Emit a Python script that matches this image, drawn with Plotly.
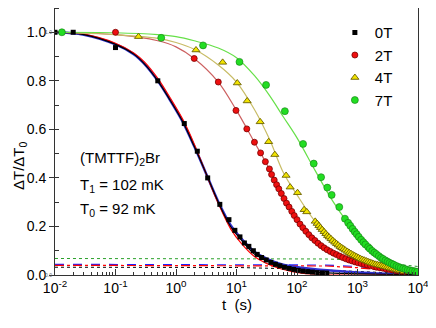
import plotly.graph_objects as go

# 0T (quadrados pretos)
t_0T = [0.01, 0.02, 0.1, 0.5, 1.37, 2.25, 3.34, 5.3, 7.5, 9.4, 11.4, 13.5, 16, 19, 22, 26, 31, 37, 44, 52,
        62, 74, 88, 105, 125, 150, 180, 215, 260, 310]
v_0T = [1.0, 1.0, 0.937, 0.80, 0.624, 0.51, 0.40, 0.291, 0.228, 0.184, 0.157, 0.132, 0.118, 0.10, 0.085, 0.072,
        0.062, 0.052, 0.044, 0.038, 0.032, 0.027, 0.023, 0.019, 0.016, 0.014, 0.012, 0.010, 0.009, 0.008]

# 2T (circulos vermelhos)
t_2T = [0.1, 2.0, 5.0, 9.8, 14.8, 19.8, 25, 30, 35, 38, 42, 46, 50, 55, 61, 67, 74, 82, 90, 100, 112, 125, 140,
        157, 176, 198, 222, 250, 280, 315, 355, 400, 450, 505, 570, 640, 720, 810, 910, 1020, 1150, 1300, 1460,
        1640, 1850, 2080, 2340, 2630, 2960, 3330, 3750, 4220, 4750, 5340, 6000]
v_2T = [1.0, 0.892, 0.795, 0.678, 0.602, 0.547, 0.503, 0.467, 0.437, 0.414, 0.391, 0.372, 0.355, 0.336, 0.315,
        0.296, 0.28, 0.262, 0.245, 0.228, 0.21, 0.195, 0.18, 0.166, 0.153, 0.142, 0.131, 0.121, 0.112, 0.104,
        0.097, 0.090, 0.084, 0.078, 0.072, 0.067, 0.062, 0.058, 0.054, 0.050, 0.047, 0.044, 0.041, 0.038, 0.035,
        0.032, 0.030, 0.028, 0.025, 0.023, 0.021, 0.019, 0.017, 0.015, 0.014]

# 4T (triangulos amarelos)
t_4T = [0.24, 2.14, 5.9, 10.3, 15, 24.6, 34, 43, 66, 77, 102, 131, 145, 200, 215, 230, 245, 260, 280, 300, 320,
        340, 365, 390, 420, 450, 480, 515, 550, 590, 630, 680, 730, 780, 840, 900, 970, 1040, 1120, 1200, 1290,
        1390, 1490, 1600, 1720, 1850, 1990, 2140, 2300, 2470, 2650, 2850, 3060, 3290, 3540, 3800, 4090, 4400,
        4730, 5080, 5460, 5870]
v_4T = [0.982, 0.927, 0.876, 0.791, 0.717, 0.631, 0.549, 0.496, 0.41, 0.362, 0.339, 0.269, 0.26, 0.221, 0.212,
        0.203, 0.195, 0.187, 0.178, 0.17, 0.162, 0.156, 0.149, 0.142, 0.135, 0.129, 0.123, 0.117, 0.112, 0.107,
        0.102, 0.097, 0.092, 0.088, 0.083, 0.079, 0.075, 0.071, 0.067, 0.064, 0.061, 0.058, 0.055, 0.052, 0.049,
        0.046, 0.044, 0.042, 0.040, 0.038, 0.036, 0.034, 0.032, 0.030, 0.028, 0.026, 0.024, 0.022, 0.020, 0.018,
        0.016, 0.015]

# 7T (circulos verdes)
t_7T = [0.013, 0.57, 2.8, 11.2, 30.8, 63, 126, 189, 250, 317, 374, 500, 620, 700, 760, 830, 900, 970, 1050,
        1150, 1250, 1350, 1500, 1600, 1750, 1900, 2050, 2250, 2450, 2650, 2900, 3150, 3400, 3700, 4000, 4400,
        4800, 5200, 5700, 6200, 6800, 7400, 8100, 8900, 9700]
v_7T = [1.0, 0.977, 0.946, 0.878, 0.783, 0.675, 0.54, 0.459, 0.403, 0.36, 0.33, 0.28, 0.232, 0.215, 0.203,
        0.19, 0.178, 0.168, 0.157, 0.145, 0.135, 0.126, 0.115, 0.108, 0.099, 0.092, 0.086, 0.078, 0.071, 0.066,
        0.060, 0.055, 0.050, 0.046, 0.042, 0.037, 0.033, 0.030, 0.027, 0.024, 0.021, 0.019, 0.017, 0.015, 0.013]

# curvas de ajuste
fit_t_0T = [0.01, 0.03, 0.1, 0.2, 0.3, 0.5, 0.8, 1.3, 2, 3, 5, 8, 12, 20, 30, 50, 80, 120, 200, 400, 1000, 3000, 10000]
fit_0T_preto = [1.0, 0.99, 0.95, 0.91, 0.87, 0.80, 0.72, 0.63, 0.53, 0.43, 0.30, 0.20, 0.145, 0.085, 0.063, 0.04,
                0.027, 0.018, 0.012, 0.008, 0.005, 0.003, 0.002]
fit_0T_azul = [1.0, 0.99, 0.95, 0.91, 0.87, 0.80, 0.72, 0.63, 0.53, 0.43, 0.302, 0.205, 0.15, 0.095, 0.07, 0.048,
               0.036, 0.03, 0.024, 0.018, 0.01, 0.005, 0.002]
fit_0T_vermelho = [1.0, 0.992, 0.955, 0.915, 0.878, 0.81, 0.73, 0.64, 0.54, 0.43, 0.295, 0.19, 0.13, 0.075, 0.05,
                   0.028, 0.015, 0.008, 0.004, 0.0, 0.0, 0.0, 0.0]

fit_t = [0.01, 0.1, 0.5, 1, 2, 5, 10, 20, 35, 60, 100, 200, 400, 1000, 2000, 5000, 10000]
fit_2T = [1.0, 0.99, 0.965, 0.94, 0.892, 0.795, 0.678, 0.545, 0.437, 0.318, 0.228, 0.142, 0.09, 0.05, 0.032,
          0.016, 0.009]
fit_4T = [1.0, 0.99, 0.975, 0.958, 0.93, 0.865, 0.795, 0.68, 0.56, 0.42, 0.33, 0.22, 0.14, 0.075, 0.045, 0.021,
          0.012]
fit_7T = [1.0, 0.998, 0.99, 0.982, 0.965, 0.935, 0.895, 0.82, 0.74, 0.65, 0.565, 0.43, 0.3, 0.163, 0.088,
          0.03, 0.012]

# linhas de base tracejadas
base_t = [0.01, 10, 100, 300, 1000, 3000, 10000]
base_verde = [0.068, 0.068, 0.067, 0.066, 0.062, 0.05, 0.035]
base_azul = [0.044, 0.044, 0.043, 0.041, 0.035, 0.022, 0.01]
base_vermelho = [0.040, 0.040, 0.039, 0.037, 0.03, 0.018, 0.008]
base_preto = [0.032, 0.031, 0.025, 0.02, 0.012, 0.007, 0.004]

fonte = 'Liberation Sans'

fig = go.Figure()

# linhas de base
fig.add_trace(go.Scatter(x=base_t, y=base_verde, mode='lines', line=dict(color='#2aa02a', width=1, dash='dot'), showlegend=False))
fig.add_trace(go.Scatter(x=base_t, y=base_preto, mode='lines', line=dict(color='black', width=1, dash='dot'), showlegend=False))
fig.add_trace(go.Scatter(x=base_t, y=base_azul, mode='lines', line=dict(color='#2020ff', width=1.2, dash='dash'), showlegend=False))
fig.add_trace(go.Scatter(x=base_t, y=base_vermelho, mode='lines', line=dict(color='red', width=1.2, dash='dashdot'), showlegend=False))

# ajustes
fig.add_trace(go.Scatter(x=fit_t_0T, y=fit_0T_azul, mode='lines', line=dict(color='#3030d0', width=2.5, shape='spline'), showlegend=False))
fig.add_trace(go.Scatter(x=fit_t_0T, y=fit_0T_vermelho, mode='lines', line=dict(color='red', width=1.2, shape='spline'), showlegend=False))
fig.add_trace(go.Scatter(x=fit_t_0T, y=fit_0T_preto, mode='lines', line=dict(color='black', width=1.2, shape='spline'), showlegend=False))
fig.add_trace(go.Scatter(x=fit_t, y=fit_2T, mode='lines', line=dict(color='#cc6060', width=1.2, shape='spline'), showlegend=False))
fig.add_trace(go.Scatter(x=fit_t, y=fit_4T, mode='lines', line=dict(color='#c8bc66', width=1.2, shape='spline'), showlegend=False))
fig.add_trace(go.Scatter(x=fit_t, y=fit_7T, mode='lines', line=dict(color='#66e048', width=1.2, shape='spline'), showlegend=False))

# dados
fig.add_trace(go.Scatter(name='0T', x=t_0T, y=v_0T, mode='markers',
                         marker=dict(symbol='square', size=5, color='black')))
fig.add_trace(go.Scatter(name='2T', x=t_2T, y=v_2T, mode='markers',
                         marker=dict(symbol='circle', size=6, color='#ee1010', line=dict(color='#7a0000', width=0.8))))
fig.add_trace(go.Scatter(name='4T', x=t_4T, y=v_4T, mode='markers',
                         marker=dict(symbol='triangle-up', size=7, color='#f2e400', line=dict(color='#6a6000', width=0.9))))
fig.add_trace(go.Scatter(name='7T', x=t_7T, y=v_7T, mode='markers',
                         marker=dict(symbol='circle', size=7, color='#22dd22', line=dict(color='#137a13', width=0.6))))

decadas = [0.01, 0.1, 1, 10, 100, 1000, 10000]
rotulos_x = ['10<sup>-2</sup>', '10<sup>-1</sup>', '10<sup>0</sup>', '10<sup>1</sup>', '10<sup>2</sup>', '10<sup>3</sup>', '10<sup>4</sup>']
menores = [m * d for d in decadas[:-1] for m in range(2, 10)]

# a pagina tem margem de 8px, por isso a figura e 428x320
fig.update_layout(
    width=428, height=320,
    margin=dict(l=47, r=18, t=0, b=53),
    plot_bgcolor='white', paper_bgcolor='white',
    font=dict(family=fonte, size=14, color='black'),
    xaxis=dict(type='log', range=[-2, 4], tickmode='array', tickvals=decadas, ticktext=rotulos_x,
               ticks='inside', ticklen=6, tickcolor='#333', showgrid=False, zeroline=False,
               showline=True, linecolor='#333', linewidth=1, mirror=True,
               minor=dict(ticks='inside', ticklen=3, tickcolor='#333', tickmode='array', tickvals=menores, showgrid=False),
               tickfont=dict(size=14)),
    yaxis=dict(range=[0, 1.1], tickmode='linear', tick0=0, dtick=0.2, tickformat='.1f',
               ticks='outside', ticklen=5, tickcolor='#333', showgrid=False, zeroline=False,
               showline=True, linecolor='#333', linewidth=1, mirror=True,
               minor=dict(ticks='inside', ticklen=4, tickcolor='#333', dtick=0.1, showgrid=False),
               tickfont=dict(size=14)),
    legend=dict(x=0.771, y=0.969, xanchor='left', yanchor='top', bgcolor='rgba(0,0,0,0)',
                font=dict(size=15), tracegroupgap=0),
    annotations=[
        dict(text='(TMTTF)<sub>2</sub>Br', x=0.063, y=0.437, xref='paper', yref='paper', xanchor='left',
             showarrow=False, font=dict(size=15)),
        dict(text='T<sub>1</sub> = 102 mK', x=0.063, y=0.292, xref='paper', yref='paper', xanchor='left',
             showarrow=False, font=dict(size=15)),
        dict(text='T<sub>0</sub> = 92 mK', x=0.063, y=0.201, xref='paper', yref='paper', xanchor='left',
             showarrow=False, font=dict(size=15)),
        dict(text='t  (s)', x=0.5, y=-0.149, xref='paper', yref='paper', showarrow=False, font=dict(size=15)),
        dict(text='ΔT/ΔT<sub>0</sub>', x=-0.1295, y=0.41, xref='paper', yref='paper', textangle=-90,
             xanchor='left', showarrow=False, font=dict(size=15)),
        dict(text='1.0', x=-0.004, y=1.0, xref='paper', yref='y', xanchor='right', showarrow=False,
             font=dict(size=5, color='#666')),
        dict(text='0.0', x=-0.004, y=0.0, xref='paper', yref='y', xanchor='right', showarrow=False,
             font=dict(size=5, color='#666')),
    ],
)

fig.write_html('out.html')
